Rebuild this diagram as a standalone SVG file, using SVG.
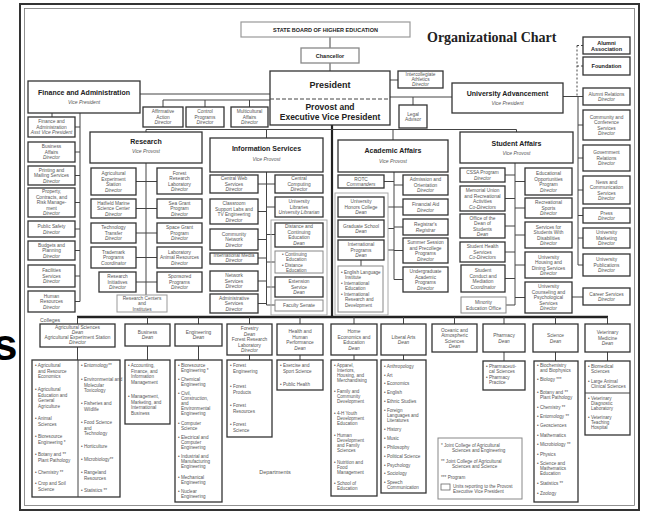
<svg xmlns="http://www.w3.org/2000/svg" width="649" height="514" viewBox="0 0 649 514">
<style>
text{font-family:"Liberation Sans",Arial,sans-serif}
.b{fill:#fff;stroke:#333;stroke-width:1.3}
.lb{fill:none;stroke:#aaa;stroke-width:1}
.c line,.c path{stroke:#444;stroke-width:1;fill:none}
.t{font-size:4.8px;fill:#555;text-anchor:middle}
.tb{font-size:5.5px;fill:#222;text-anchor:middle;font-weight:bold}
.d{font-size:4.6px;fill:#555}
.h{font-size:7px;font-weight:bold;fill:#222;text-anchor:middle}
.v{font-size:5px;font-style:italic;fill:#555;text-anchor:middle}
.title{font-family:"Liberation Serif","Times New Roman",serif;font-size:14px;font-weight:bold;fill:#222}
</style>
<rect width="649" height="514" fill="#fff"/>
<rect x="20" y="4" width="619" height="506" fill="none" stroke="#333" stroke-width="2"/>
<rect x="24.5" y="8.5" width="610" height="497" fill="none" stroke="#777" stroke-width="0.8"/>
<text x="-7" y="360" font-size="44" font-weight="bold" fill="#000">s</text>
<text class="title" x="427" y="42">Organizational Chart</text>

<g class="c">
<line x1="330" y1="37" x2="330" y2="48"/><line x1="330" y1="63" x2="330" y2="71"/>
<line x1="140" y1="94" x2="270" y2="94"/>
<path d="M163 107V100H270M205 100V107M249.5 100V107"/>
<line x1="390" y1="80" x2="398" y2="80"/>
<path d="M390 97H452M413 97V105"/>
<path d="M563 96.5H583"/>
<path d="M577 45.5V96.5M577 45.5H583M577 66H583" stroke-dasharray="2,2"/>
<path d="M578 96.5V265M578 125H583M578 158H583M578 190H583M578 215.5H583M578 238H583M578 265H583"/>
<line x1="572" y1="297" x2="583" y2="297"/>
<path d="M332 125V317" style="stroke-width:2.2;stroke:#222"/>
<path d="M146 132V129.5H516.5V132M266.5 129.5V138M393 129.5V140"/>
<path d="M52 113V117M80 113V301.5M75 127H80M75 152H80M75 175.5H80M75 202.5H80M75 229H80M75 250.5H80M75 276H80M75 301.5H80"/>
<path d="M146 163V295M136 181.5H157M136 208.5H157M136 233H157M136 257.5H157M136 282H157"/>
<path d="M266.5 172V305M258 184H275M258 211.5H266.5M258 239.5H266.5M258 258H266.5M258 281H266.5M258 303.5H266.5M266.5 207H275M266.5 234.5H275M266.5 262H275M266.5 287H275M266.5 305H275"/>
<path d="M394 172V279.5M384 181.5H394M388 207H394M388 228.5H394M388 250H394M394 185H403M394 207H403M394 227H403M394 250.5H403M394 279.5H403M361 260V266"/>
<path d="M515 163V305M505 175H515M505 198.5H515M505 226H515M505 252H515M505 278.5H515M506 305H515M515 181.5H525M515 208H525M515 235H525M515 265H525M515 297.5H525"/>
<path d="M77 317H608" style="stroke-width:2.5;stroke:#222"/>
<path d="M77.5 317V324M147.5 317V324M198.5 317V324M249.5 317V324M300 317V324M354 317V324M403.5 317V324M454.5 317V324M504 317V324M555.5 317V324M607.5 317V324"/>
<path d="M77.5 347V360M147.5 346V360M198.5 346V360M249.5 355V360M300 355V360M354 355V360M403.5 355V360M504 352V361M555.5 352V361M607.5 352V361"/>
</g>

<g id="state-board"><rect x="241" y="22" width="169" height="15" fill="#fff" stroke="#999" stroke-width="1.2"/><text class="tb" x="325.5" y="31.5">STATE BOARD OF HIGHER EDUCATION</text></g>
<g id="chancellor"><rect class="b" x="301" y="48" width="58" height="15" style="stroke:#888"/><text class="tb" x="330" y="57.5">Chancellor</text></g>
<g id="president"><rect class="b" x="270" y="71" width="120" height="54"/><line x1="270" y1="99" x2="390" y2="99" stroke="#444" stroke-dasharray="4,2"/><text class="h" x="330" y="88" style="font-size:9px">President</text><text class="h" x="330" y="110" style="font-size:8.5px">Provost and</text><text class="h" x="330" y="120" style="font-size:8.5px">Executive Vice President</text></g>
<g id="athletics"><rect class="b" x="398" y="71" width="45" height="17"/><text class="t" x="420.5" y="75.8">Intercollegiate<tspan x="420.5" dy="5">Athletics</tspan><tspan x="420.5" dy="5" font-style="italic">Director</tspan></text></g>
<g id="legal"><rect class="b" x="399" y="105" width="28" height="23"/><text class="t" x="413" y="115.5">Legal<tspan x="413" dy="5.5">Advisor</tspan></text></g>
<g id="finance"><rect class="b" x="28" y="81" width="112" height="32"/><text class="h" x="84" y="95">Finance and Administration</text><text class="v" x="84" y="104">Vice President</text></g>
<g id="affirmative"><rect class="b" x="143" y="107" width="40" height="20"/><text class="t" x="163" y="113.3">Affirmative<tspan x="163" dy="5.5">Action</tspan><tspan x="163" dy="5.5" font-style="italic">Director</tspan></text></g>
<g id="control"><rect class="b" x="186" y="107" width="38" height="20"/><text class="t" x="205" y="113.3">Control<tspan x="205" dy="5.5">Programs</tspan><tspan x="205" dy="5.5" font-style="italic">Director</tspan></text></g>
<g id="multicultural"><rect class="b" x="231" y="107" width="37" height="20"/><text class="t" x="249.5" y="113.3">Multicultural<tspan x="249.5" dy="5.5">Affairs</tspan><tspan x="249.5" dy="5.5" font-style="italic">Director</tspan></text></g>
<g id="advancement"><rect class="b" x="452" y="83" width="111" height="30"/><text class="h" x="507.5" y="96">University Advancement</text><text class="v" x="507.5" y="105">Vice President</text></g>

<g id="alumni-assoc"><rect class="b" x="583" y="37" width="47" height="17"/><text class="tb" x="606.5" y="44.5">Alumni<tspan x="606.5" dy="6">Association</tspan></text></g>
<g id="foundation"><rect class="b" x="583" y="57" width="47" height="18"/><text class="tb" x="606.5" y="68">Foundation</text></g>
<g id="alumni-rel"><rect class="b" x="583" y="88" width="47" height="17"/><text class="t" x="606.5" y="95.5">Alumni Relations<tspan x="606.5" dy="5.5" font-style="italic">Director</tspan></text></g>
<g id="community-conf"><rect class="b" x="583" y="110" width="47" height="30"/><text class="t" x="606.5" y="118.5">Community and<tspan x="606.5" dy="5.5">Conference</tspan><tspan x="606.5" dy="5.5">Services</tspan><tspan x="606.5" dy="5.5" font-style="italic">Director</tspan></text></g>
<g id="gov-rel"><rect class="b" x="583" y="145" width="47" height="26"/><text class="t" x="606.5" y="154.3">Government<tspan x="606.5" dy="5.5">Relations</tspan><tspan x="606.5" dy="5.5" font-style="italic">Director</tspan></text></g>
<g id="news"><rect class="b" x="583" y="176" width="47" height="28"/><text class="t" x="606.5" y="183.5">News and<tspan x="606.5" dy="5.5">Communication</tspan><tspan x="606.5" dy="5.5">Services</tspan><tspan x="606.5" dy="5.5" font-style="italic">Director</tspan></text></g>
<g id="press"><rect class="b" x="583" y="208" width="47" height="15"/><text class="t" x="606.5" y="214.5">Press<tspan x="606.5" dy="5.5" font-style="italic">Director</tspan></text></g>
<g id="marketing"><rect class="b" x="583" y="228" width="47" height="20"/><text class="t" x="606.5" y="234.3">University<tspan x="606.5" dy="5.5">Marketing</tspan><tspan x="606.5" dy="5.5" font-style="italic">Director</tspan></text></g>
<g id="publications"><rect class="b" x="583" y="254" width="47" height="22"/><text class="t" x="606.5" y="261.3">University<tspan x="606.5" dy="5.5">Publications</tspan><tspan x="606.5" dy="5.5" font-style="italic">Director</tspan></text></g>
<g id="career"><rect class="b" x="583" y="288" width="47" height="17"/><text class="t" x="606.5" y="295.5">Career Services<tspan x="606.5" dy="5.5" font-style="italic">Director</tspan></text></g>

<g id="fa-asst"><rect class="b" x="28" y="117" width="47" height="20"/><text class="t" x="51.5" y="123.3">Finance and<tspan x="51.5" dy="5.5">Administration</tspan><tspan x="51.5" dy="5.5" font-style="italic">Asst Vice President</tspan></text></g>
<g id="business-affairs"><rect class="b" x="28" y="142" width="47" height="20"/><text class="t" x="51.5" y="148.3">Business<tspan x="51.5" dy="5.5">Affairs</tspan><tspan x="51.5" dy="5.5" font-style="italic">Director</tspan></text></g>
<g id="printing"><rect class="b" x="28" y="166" width="47" height="19"/><text class="t" x="51.5" y="171.8">Printing and<tspan x="51.5" dy="5.5">Mailing Services</tspan><tspan x="51.5" dy="5.5" font-style="italic">Director</tspan></text></g>
<g id="property"><rect class="b" x="28" y="188" width="47" height="29"/><text class="t" x="51.5" y="193.3">Property,<tspan x="51.5" dy="5.5">Contracts, and</tspan><tspan x="51.5" dy="5.5">Risk Manage-</tspan><tspan x="51.5" dy="5.5">ment</tspan><tspan x="51.5" dy="5.5" font-style="italic">Director</tspan></text></g>
<g id="public-safety"><rect class="b" x="28" y="221" width="47" height="16"/><text class="t" x="51.5" y="228">Public Safety<tspan x="51.5" dy="5.5" font-style="italic">Director</tspan></text></g>
<g id="budgets"><rect class="b" x="28" y="241" width="47" height="19"/><text class="t" x="51.5" y="246.8">Budgets and<tspan x="51.5" dy="5.5">Planning</tspan><tspan x="51.5" dy="5.5" font-style="italic">Director</tspan></text></g>
<g id="facilities"><rect class="b" x="28" y="265" width="47" height="22"/><text class="t" x="51.5" y="272.3">Facilities<tspan x="51.5" dy="5.5">Services</tspan><tspan x="51.5" dy="5.5" font-style="italic">Director</tspan></text></g>
<g id="hr"><rect class="b" x="28" y="291" width="47" height="21"/><text class="t" x="51.5" y="297.8">Human<tspan x="51.5" dy="5.5">Resources</tspan><tspan x="51.5" dy="5.5" font-style="italic">Director</tspan></text></g>

<g id="research"><rect class="b" x="90" y="132" width="112" height="31"/><text class="h" x="146" y="143.5">Research</text><text class="v" x="146" y="153">Vice Provost</text></g>
<g id="ag-exp"><rect class="b" x="91" y="168" width="45" height="27"/><text class="t" x="113.5" y="175">Agricultural<tspan x="113.5" dy="5.5">Experiment</tspan><tspan x="113.5" dy="5.5">Station</tspan><tspan x="113.5" dy="5.5" font-style="italic">Director</tspan></text></g>
<g id="hatfield"><rect class="b" x="91" y="199" width="45" height="19"/><text class="t" x="113.5" y="204.8">Hatfield Marine<tspan x="113.5" dy="5.5">Science Center</tspan><tspan x="113.5" dy="5.5" font-style="italic">Director</tspan></text></g>
<g id="tech-transfer"><rect class="b" x="91" y="223" width="45" height="20"/><text class="t" x="113.5" y="229.3">Technology<tspan x="113.5" dy="5.5">Transfer</tspan><tspan x="113.5" dy="5.5" font-style="italic">Director</tspan></text></g>
<g id="trademark"><rect class="b" x="91" y="247" width="45" height="21"/><text class="t" x="113.5" y="253.8">Trademark<tspan x="113.5" dy="5.5">Programs</tspan><tspan x="113.5" dy="5.5" font-style="italic">Coordinator</tspan></text></g>
<g id="research-init"><rect class="b" x="99" y="272" width="37" height="20"/><text class="t" x="117.5" y="278.3">Research<tspan x="117.5" dy="5.5">Initiatives</tspan><tspan x="117.5" dy="5.5" font-style="italic">Director</tspan></text></g>
<g id="forest-lab"><rect class="b" x="157" y="168" width="45" height="26"/><text class="t" x="179.5" y="174.6">Forest<tspan x="179.5" dy="5.5">Research</tspan><tspan x="179.5" dy="5.5">Laboratory</tspan><tspan x="179.5" dy="5.5" font-style="italic">Director</tspan></text></g>
<g id="sea-grant"><rect class="b" x="157" y="199" width="45" height="19"/><text class="t" x="179.5" y="204.8">Sea Grant<tspan x="179.5" dy="5.5">Program</tspan><tspan x="179.5" dy="5.5" font-style="italic">Director</tspan></text></g>
<g id="space-grant"><rect class="b" x="157" y="223" width="45" height="20"/><text class="t" x="179.5" y="229.3">Space Grant<tspan x="179.5" dy="5.5">Program</tspan><tspan x="179.5" dy="5.5" font-style="italic">Director</tspan></text></g>
<g id="lab-animal"><rect class="b" x="157" y="247" width="45" height="21"/><text class="t" x="179.5" y="253.8">Laboratory<tspan x="179.5" dy="5.5">Animal Resources</tspan><tspan x="179.5" dy="5.5" font-style="italic">Director</tspan></text></g>
<g id="sponsored"><rect class="b" x="157" y="272" width="45" height="20"/><text class="t" x="179.5" y="278.3">Sponsored<tspan x="179.5" dy="5.5">Programs</tspan><tspan x="179.5" dy="5.5" font-style="italic">Director</tspan></text></g>
<g id="research-centers"><rect x="117" y="295" width="50" height="17" fill="#fff" stroke="#999"/><text class="t" x="142" y="299.8">Research Centers<tspan x="142" dy="5.5">and</tspan><tspan x="142" dy="5.5">Institutes</tspan></text></g>

<g id="info-services"><rect class="b" x="210" y="138" width="113" height="34"/><text class="h" x="266.5" y="151">Information Services</text><text class="v" x="266.5" y="160.5">Vice Provost</text></g>
<g id="central-web"><rect class="b" x="210" y="175" width="48" height="18"/><text class="t" x="234" y="180.3">Central Web<tspan x="234" dy="5.5">Services</tspan><tspan x="234" dy="5.5" font-style="italic">Director</tspan></text></g>
<g id="classroom"><rect class="b" x="210" y="199" width="48" height="25"/><text class="t" x="234" y="205">Classroom<tspan x="234" dy="5.5">Support Labs and</tspan><tspan x="234" dy="5.5">TV Engineering</tspan><tspan x="234" dy="5.5" font-style="italic">Director</tspan></text></g>
<g id="community-net"><rect class="b" x="210" y="229" width="48" height="21"/><text class="t" x="234" y="235.8">Community<tspan x="234" dy="5.5">Network</tspan><tspan x="234" dy="5.5" font-style="italic">Director</tspan></text></g>
<g id="intl-media"><rect class="b" x="210" y="253" width="48" height="11"/><text class="t" x="234" y="257.3">International Media<tspan x="234" dy="5" font-style="italic">Director</tspan></text></g>
<g id="network-services"><rect class="b" x="210" y="271" width="48" height="20"/><text class="t" x="234" y="277.3">Network<tspan x="234" dy="5.5">Services</tspan><tspan x="234" dy="5.5" font-style="italic">Director</tspan></text></g>
<g id="admin-services"><rect class="b" x="210" y="294" width="48" height="19"/><text class="t" x="234" y="299.8">Administrative<tspan x="234" dy="5.5">Services</tspan><tspan x="234" dy="5.5" font-style="italic">Director</tspan></text></g>
<g id="central-computing"><rect class="b" x="275" y="175" width="48" height="18"/><text class="t" x="299" y="180.3">Central<tspan x="299" dy="5.5">Computing</tspan><tspan x="299" dy="5.5" font-style="italic">Director</tspan></text></g>
<g id="libraries"><rect class="b" x="275" y="197" width="48" height="20"/><text class="t" x="299" y="203.3">University<tspan x="299" dy="5.5">Libraries</tspan><tspan x="299" dy="5.5" font-style="italic">University Librarian</tspan></text></g>
<rect class="lb" x="271" y="220" width="56" height="95"/>
<g id="distance-ed"><rect class="b" x="275" y="223" width="48" height="24"/><text class="t" x="299" y="228.3">Distance and<tspan x="299" dy="5.5">Continuing</tspan><tspan x="299" dy="5.5">Education</tspan><tspan x="299" dy="5.5" font-style="italic">Dean</tspan></text></g>
<g id="continuing"><rect x="275" y="251" width="48" height="22" fill="#fff" stroke="#888"/><text class="d" x="282" y="256">• Continuing<tspan x="286" dy="5">Education</tspan><tspan x="282" dy="5.5">• Distance</tspan><tspan x="286" dy="5">Education</tspan></text></g>
<g id="extension"><rect class="b" x="275" y="277" width="48" height="20"/><text class="t" x="299" y="283.3">Extension<tspan x="299" dy="5.5">Service</tspan><tspan x="299" dy="5.5" font-style="italic">Dean</tspan></text></g>
<g id="faculty-senate"><rect x="275" y="300" width="48" height="11" fill="#fff" stroke="#888"/><text class="t" x="299" y="307.3">Faculty Senate</text></g>

<g id="academic"><rect class="b" x="338" y="140" width="110" height="32"/><text class="h" x="393" y="153">Academic Affairs</text><text class="v" x="393" y="162.5">Vice Provost</text></g>
<g id="rotc"><rect class="b" x="338" y="175" width="46" height="13"/><text class="t" x="361" y="180.5">ROTC<tspan x="361" dy="5" font-style="italic">Commanders</tspan></text></g>
<rect class="lb" x="335" y="193" width="53" height="122"/>
<g id="honors"><rect class="b" x="338" y="197" width="46" height="20"/><text class="t" x="361" y="203.3">University<tspan x="361" dy="5.5">Honors College</tspan><tspan x="361" dy="5.5" font-style="italic">Dean</tspan></text></g>
<g id="graduate"><rect class="b" x="338" y="220" width="46" height="17"/><text class="t" x="361" y="227.5">Graduate School<tspan x="361" dy="5.5" font-style="italic">Dean</tspan></text></g>
<g id="intl-programs"><rect class="b" x="338" y="240" width="46" height="20"/><text class="t" x="361" y="246.3">International<tspan x="361" dy="5.5">Programs</tspan><tspan x="361" dy="5.5" font-style="italic">Dean</tspan></text></g>
<g id="intl-units"><rect x="338" y="266" width="45" height="46" fill="#fff" stroke="#888"/><text class="d" x="341" y="273.5">• English Language<tspan x="345" dy="5.3">Institute</tspan><tspan x="341" dy="6">• International</tspan><tspan x="345" dy="5.3">Education</tspan><tspan x="341" dy="6">• International</tspan><tspan x="345" dy="5.3">Research and</tspan><tspan x="345" dy="5.3">Development</tspan></text></g>
<g id="admission"><rect class="b" x="403" y="175" width="45" height="20"/><text class="t" x="425.5" y="181.3">Admission and<tspan x="425.5" dy="5.5">Orientation</tspan><tspan x="425.5" dy="5.5" font-style="italic">Director</tspan></text></g>
<g id="financial-aid"><rect class="b" x="403" y="199" width="45" height="16"/><text class="t" x="425.5" y="206">Financial Aid<tspan x="425.5" dy="5.5" font-style="italic">Director</tspan></text></g>
<g id="registrar"><rect class="b" x="403" y="219" width="45" height="16"/><text class="t" x="425.5" y="226">Registrar's<tspan x="425.5" dy="5.5" font-style="italic">Registrar</tspan></text></g>
<g id="summer"><rect class="b" x="403" y="238" width="45" height="25"/><text class="t" x="425.5" y="244">Summer Session<tspan x="425.5" dy="5.5">and Precollege</tspan><tspan x="425.5" dy="5.5">Programs</tspan><tspan x="425.5" dy="5.5" font-style="italic">Director</tspan></text></g>
<g id="undergrad"><rect class="b" x="403" y="267" width="45" height="25"/><text class="t" x="425.5" y="273">Undergraduate<tspan x="425.5" dy="5.5">Academic</tspan><tspan x="425.5" dy="5.5">Programs</tspan><tspan x="425.5" dy="5.5" font-style="italic">Director</tspan></text></g>

<g id="student-affairs"><rect class="b" x="460" y="132" width="113" height="31"/><text class="h" x="516.5" y="145.5">Student Affairs</text><text class="v" x="516.5" y="155">Vice Provost</text></g>
<g id="cssa"><rect class="b" x="460" y="168" width="45" height="14"/><text class="t" x="482.5" y="174">CSSA Program<tspan x="482.5" dy="5.5" font-style="italic">Director</tspan></text></g>
<g id="memorial-union"><rect class="b" x="460" y="186" width="45" height="25"/><text class="t" x="482.5" y="192">Memorial Union<tspan x="482.5" dy="5.5">and Recreational</tspan><tspan x="482.5" dy="5.5">Activities</tspan><tspan x="482.5" dy="5.5" font-style="italic">Co-Directors</tspan></text></g>
<g id="dean-students"><rect class="b" x="460" y="214" width="45" height="24"/><text class="t" x="482.5" y="219.5">Office of the<tspan x="482.5" dy="5.5">Dean of</tspan><tspan x="482.5" dy="5.5">Students</tspan><tspan x="482.5" dy="5.5" font-style="italic">Dean</tspan></text></g>
<g id="health-services"><rect class="b" x="460" y="242" width="45" height="20"/><text class="t" x="482.5" y="248.3">Student Health<tspan x="482.5" dy="5.5">Services</tspan><tspan x="482.5" dy="5.5" font-style="italic">Co-Directors</tspan></text></g>
<g id="conduct"><rect class="b" x="461" y="265" width="44" height="27"/><text class="t" x="483" y="272">Student<tspan x="483" dy="5.5">Conduct and</tspan><tspan x="483" dy="5.5">Mediation</tspan><tspan x="483" dy="5.5" font-style="italic">Coordinator</tspan></text></g>
<g id="minority"><rect x="461" y="297" width="45" height="16" fill="#fff" stroke="#888"/><text class="t" x="483.5" y="304">Minority<tspan x="483.5" dy="5.5">Education Office</tspan></text></g>
<g id="eop"><rect class="b" x="525" y="168" width="47" height="27"/><text class="t" x="548.5" y="175">Educational<tspan x="548.5" dy="5.5">Opportunities</tspan><tspan x="548.5" dy="5.5">Program</tspan><tspan x="548.5" dy="5.5" font-style="italic">Director</tspan></text></g>
<g id="rec-sports"><rect class="b" x="525" y="198" width="47" height="20"/><text class="t" x="548.5" y="204.3">Recreational<tspan x="548.5" dy="5.5">Sports</tspan><tspan x="548.5" dy="5.5" font-style="italic">Director</tspan></text></g>
<g id="disabilities"><rect class="b" x="525" y="222" width="47" height="26"/><text class="t" x="548.5" y="228.5">Services for<tspan x="548.5" dy="5.5">Students With</tspan><tspan x="548.5" dy="5.5">Disabilities</tspan><tspan x="548.5" dy="5.5" font-style="italic">Director</tspan></text></g>
<g id="housing"><rect class="b" x="525" y="252" width="47" height="26"/><text class="t" x="548.5" y="258.5">University<tspan x="548.5" dy="5.5">Housing and</tspan><tspan x="548.5" dy="5.5">Dining Services</tspan><tspan x="548.5" dy="5.5" font-style="italic">Director</tspan></text></g>
<g id="counseling"><rect class="b" x="525" y="282" width="47" height="31"/><text class="t" x="548.5" y="288.3">University<tspan x="548.5" dy="5.5">Counseling and</tspan><tspan x="548.5" dy="5.5">Psychological</tspan><tspan x="548.5" dy="5.5">Services</tspan><tspan x="548.5" dy="5.5" font-style="italic">Director</tspan></text></g>

<text class="t" x="40" y="321.5" style="text-anchor:start;font-size:5.2px">Colleges</text>
<g id="c-ag"><rect class="b" x="40" y="324" width="75" height="23"/><text class="t" x="77.5" y="329.3">Agricultural Sciences<tspan x="77.5" dy="5" font-style="italic">Dean</tspan><tspan x="77.5" dy="5">Agricultural Experiment Station</tspan><tspan x="77.5" dy="5" font-style="italic">Director</tspan></text></g>
<g id="c-business"><rect class="b" x="125" y="324" width="45" height="22"/><text class="t" x="147.5" y="333.5">Business<tspan x="147.5" dy="5.5" font-style="italic">Dean</tspan></text></g>
<g id="c-eng"><rect class="b" x="175" y="324" width="47" height="22"/><text class="t" x="198.5" y="333.5">Engineering<tspan x="198.5" dy="5.5" font-style="italic">Dean</tspan></text></g>
<g id="c-forestry"><rect class="b" x="227" y="324" width="45" height="31"/><text class="t" x="249.5" y="330.3">Forestry<tspan x="249.5" dy="5.5" font-style="italic">Dean</tspan><tspan x="249.5" dy="5.5">Forest Research</tspan><tspan x="249.5" dy="5.5">Laboratory</tspan><tspan x="249.5" dy="5.5" font-style="italic">Director</tspan></text></g>
<g id="c-health"><rect class="b" x="277" y="324" width="46" height="31"/><text class="t" x="300" y="333">Health and<tspan x="300" dy="5.5">Human</tspan><tspan x="300" dy="5.5">Performance</tspan><tspan x="300" dy="5.5" font-style="italic">Dean</tspan></text></g>
<g id="c-homeec"><rect class="b" x="331" y="324" width="46" height="31"/><text class="t" x="354" y="333">Home<tspan x="354" dy="5.5">Economics and</tspan><tspan x="354" dy="5.5">Education</tspan><tspan x="354" dy="5.5" font-style="italic">Dean</tspan></text></g>
<g id="c-libarts"><rect class="b" x="381" y="324" width="45" height="31"/><text class="t" x="403.5" y="338.5">Liberal Arts<tspan x="403.5" dy="5.5" font-style="italic">Dean</tspan></text></g>
<g id="c-oceanic"><rect class="b" x="432" y="324" width="45" height="28"/><text class="t" x="454.5" y="331.5">Oceanic and<tspan x="454.5" dy="5.5">Atmospheric</tspan><tspan x="454.5" dy="5.5">Sciences</tspan><tspan x="454.5" dy="5.5" font-style="italic">Dean</tspan></text></g>
<g id="c-pharmacy"><rect class="b" x="483" y="324" width="42" height="28"/><text class="t" x="504" y="337">Pharmacy<tspan x="504" dy="5.5" font-style="italic">Dean</tspan></text></g>
<g id="c-science"><rect class="b" x="533" y="324" width="45" height="28"/><text class="t" x="555.5" y="337">Science<tspan x="555.5" dy="5.5" font-style="italic">Dean</tspan></text></g>
<g id="c-vet"><rect class="b" x="585" y="324" width="45" height="28"/><text class="t" x="607.5" y="334.3">Veterinary<tspan x="607.5" dy="5.5">Medicine</tspan><tspan x="607.5" dy="5.5" font-style="italic">Dean</tspan></text></g>

<g id="d-ag"><rect class="b" x="32" y="360" width="88" height="137"/><line x1="78" y1="360" x2="78" y2="497" stroke="#444"/>
<text class="d" x="35" y="367">• Agricultural<tspan x="38" dy="5.5">and Resource</tspan><tspan x="38" dy="5.5">Economics</tspan><tspan x="35" dy="13">• Agricultural</tspan><tspan x="38" dy="5.5">Education and</tspan><tspan x="38" dy="5.5">General</tspan><tspan x="38" dy="5.5">Agriculture</tspan><tspan x="35" dy="12.5">• Animal</tspan><tspan x="38" dy="5.5">Sciences</tspan><tspan x="35" dy="12.5">• Bioresource</tspan><tspan x="38" dy="5.5">Engineering *</tspan><tspan x="35" dy="12.5">• Botany and **</tspan><tspan x="38" dy="5.5">Plant Pathology</tspan><tspan x="35" dy="12.5">• Chemistry **</tspan><tspan x="35" dy="11">• Crop and Soil</tspan><tspan x="38" dy="5.5">Science</tspan></text>
<text class="d" x="81" y="367">• Entomology**<tspan x="81" dy="14">• Environmental and</tspan><tspan x="84" dy="5.5">Molecular</tspan><tspan x="84" dy="5.5">Toxicology</tspan><tspan x="81" dy="13">• Fisheries and</tspan><tspan x="84" dy="5.5">Wildlife</tspan><tspan x="81" dy="13.5">• Food Science</tspan><tspan x="84" dy="5.5">and</tspan><tspan x="84" dy="5.5">Technology</tspan><tspan x="81" dy="13">• Horticulture</tspan><tspan x="81" dy="13">• Microbiology**</tspan><tspan x="81" dy="13">• Rangeland</tspan><tspan x="84" dy="5.5">Resources</tspan><tspan x="81" dy="12.5">• Statistics **</tspan></text></g>
<g id="d-business"><rect class="b" x="125" y="360" width="45" height="64"/><text class="d" x="128" y="367">• Accounting,<tspan x="131" dy="5.5">Finance, and</tspan><tspan x="131" dy="5.5">Information</tspan><tspan x="131" dy="5.5">Management</tspan><tspan x="128" dy="14.5">• Management,</tspan><tspan x="131" dy="5.5">Marketing, and</tspan><tspan x="131" dy="5.5">International</tspan><tspan x="131" dy="5.5">Business</tspan></text></g>
<g id="d-eng"><rect class="b" x="175" y="360" width="47" height="142"/><text class="d" x="178" y="367">• Bioresource<tspan x="181" dy="5">Engineering *</tspan><tspan x="178" dy="9">• Chemical</tspan><tspan x="181" dy="5">Engineering</tspan><tspan x="178" dy="9">• Civil,</tspan><tspan x="181" dy="5">Construction,</tspan><tspan x="181" dy="5">and</tspan><tspan x="181" dy="5">Environmental</tspan><tspan x="181" dy="5">Engineering</tspan><tspan x="178" dy="10">• Computer</tspan><tspan x="181" dy="5">Science</tspan><tspan x="178" dy="9">• Electrical and</tspan><tspan x="181" dy="5">Computer</tspan><tspan x="181" dy="5">Engineering</tspan><tspan x="178" dy="9">• Industrial and</tspan><tspan x="181" dy="5">Manufacturing</tspan><tspan x="181" dy="5">Engineering</tspan><tspan x="178" dy="11">• Mechanical</tspan><tspan x="181" dy="5">Engineering</tspan><tspan x="178" dy="9">• Nuclear</tspan><tspan x="181" dy="5">Engineering</tspan></text></g>
<g id="d-forestry"><rect class="b" x="227" y="360" width="45" height="77"/><text class="d" x="230" y="367">• Forest<tspan x="233" dy="5.5">Engineering</tspan><tspan x="230" dy="15.5">• Forest</tspan><tspan x="233" dy="5.5">Products</tspan><tspan x="230" dy="13.5">• Forest</tspan><tspan x="233" dy="5.5">Resources</tspan><tspan x="230" dy="13.5">• Forest</tspan><tspan x="233" dy="5.5">Science</tspan></text></g>
<g id="d-health"><rect class="b" x="277" y="360" width="46" height="30"/><text class="d" x="280" y="367">• Exercise and<tspan x="283" dy="5.5">Sport Science</tspan><tspan x="280" dy="13.5">• Public Health</tspan></text></g>
<g id="d-homeec"><rect class="b" x="331" y="360" width="46" height="136"/><text class="d" x="334" y="367">• Apparel,<tspan x="337" dy="5">Interiors,</tspan><tspan x="337" dy="5">Housing, and</tspan><tspan x="337" dy="5">Merchandising</tspan><tspan x="334" dy="11">• Family and</tspan><tspan x="337" dy="5">Community</tspan><tspan x="337" dy="5">Development</tspan><tspan x="334" dy="12">• 4-H Youth</tspan><tspan x="337" dy="5">Development</tspan><tspan x="337" dy="5">Education</tspan><tspan x="334" dy="12">• Human</tspan><tspan x="337" dy="5">Development</tspan><tspan x="337" dy="5">and Family</tspan><tspan x="337" dy="5">Sciences</tspan><tspan x="334" dy="12">• Nutrition and</tspan><tspan x="337" dy="5">Food</tspan><tspan x="337" dy="5">Management</tspan><tspan x="334" dy="11">• School of</tspan><tspan x="337" dy="5">Education</tspan></text></g>
<g id="d-libarts"><rect class="b" x="381" y="360" width="45" height="133"/><text class="d" x="384" y="368">• Anthropology<tspan x="384" dy="9">• Art</tspan><tspan x="384" dy="8">• Economics</tspan><tspan x="384" dy="9">• English</tspan><tspan x="384" dy="9">• Ethnic Studies</tspan><tspan x="384" dy="9">• Foreign</tspan><tspan x="387" dy="5">Languages and</tspan><tspan x="387" dy="5">Literatures</tspan><tspan x="384" dy="9">• History</tspan><tspan x="384" dy="9">• Music</tspan><tspan x="384" dy="9">• Philosophy</tspan><tspan x="384" dy="9">• Political Science</tspan><tspan x="384" dy="9">• Psychology</tspan><tspan x="384" dy="8">• Sociology</tspan><tspan x="384" dy="9">• Speech</tspan><tspan x="387" dy="5">Communication</tspan></text></g>
<g id="d-pharmacy"><rect class="b" x="483" y="361" width="42" height="29"/><text class="d" x="486" y="368">• Pharmaceuti-<tspan x="489" dy="5">cal Sciences</tspan><tspan x="486" dy="6">• Pharmacy</tspan><tspan x="489" dy="5">Practice</tspan></text></g>
<g id="d-science"><rect class="b" x="534" y="361" width="44" height="141"/><text class="d" x="537" y="367">• Biochemistry<tspan x="540" dy="5">and Biophysics</tspan><tspan x="537" dy="9">• Biology ***</tspan><tspan x="537" dy="13">• Botany and **</tspan><tspan x="540" dy="5">Plant Pathology</tspan><tspan x="537" dy="10">• Chemistry **</tspan><tspan x="537" dy="9">• Entomology **</tspan><tspan x="537" dy="9">• Geosciences</tspan><tspan x="537" dy="10">• Mathematics</tspan><tspan x="537" dy="9">• Microbiology **</tspan><tspan x="537" dy="10">• Physics</tspan><tspan x="537" dy="9">• Science and</tspan><tspan x="540" dy="5">Mathematics</tspan><tspan x="540" dy="5">Education</tspan><tspan x="537" dy="10">• Statistics **</tspan><tspan x="537" dy="10">• Zoology</tspan></text></g>
<g id="d-vet"><rect class="b" x="585" y="361" width="45" height="74"/><line x1="585" y1="393" x2="630" y2="393" stroke="#444"/><text class="d" x="588" y="368">• Biomedical<tspan x="591" dy="5">Sciences</tspan><tspan x="588" dy="10">• Large Animal</tspan><tspan x="591" dy="5">Clinical Sciences</tspan><tspan x="588" dy="12">• Veterinary</tspan><tspan x="591" dy="5">Diagnostic</tspan><tspan x="591" dy="5">Laboratory</tspan><tspan x="588" dy="9">• Veterinary</tspan><tspan x="591" dy="5">Teaching</tspan><tspan x="591" dy="5">Hospital</tspan></text></g>

<text class="t" x="275" y="474" style="font-size:5.5px">Departments</text>
<g id="legend"><rect x="438" y="438" width="84" height="61" fill="#fff" stroke="#888"/>
<text class="d" x="441" y="447">  * Joint College of Agricultural<tspan x="452" dy="5.2">Sciences and Engineering</tspan><tspan x="441" dy="11">** Joint College of Agricultural</tspan><tspan x="452" dy="5.2">Sciences and Science</tspan><tspan x="441" dy="11">*** Program</tspan></text>
<rect x="441" y="484" width="9" height="6" fill="none" stroke="#666" stroke-width="0.8"/>
<text class="d" x="453" y="488">Units reporting to the Provost<tspan x="453" dy="5.2">Executive Vice President</tspan></text></g>
</svg>
